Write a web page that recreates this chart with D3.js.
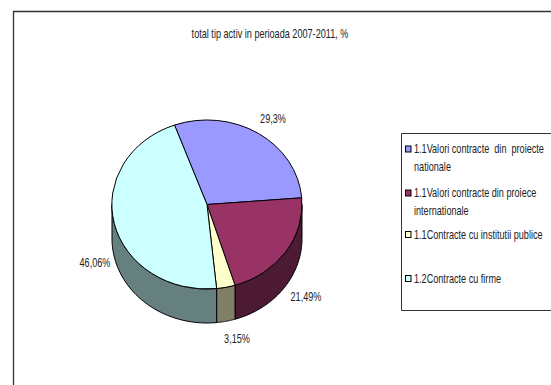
<!DOCTYPE html>
<html>
<head>
<meta charset="utf-8">
<script src="https://cdn.jsdelivr.net/npm/d3@7"></script>
<style>
  html, body { margin: 0; padding: 0; background: #fff; }
  svg { display: block; }
  text { font-family: "Liberation Sans", Arial, sans-serif; font-size: 12px; fill: #222; }
</style>
</head>
<body>
<script>
const chartTitle = "total tip activ in perioada 2007-2011, %";
const categories = [
  ["1.1Valori contracte  din  proiecte", "nationale"],
  ["1.1Valori contracte din proiece", "internationale"],
  ["1.1Contracte cu institutii publice"],
  ["1.2Contracte cu firme"]
];
const values = [29.3, 21.49, 3.15, 46.06];
const valueLabels = ["29,3%", "21,49%", "3,15%", "46,06%"];
const topColors = ["#9999ff", "#993366", "#ffffcc", "#ccffff"];
const sideColors = ["#4d4d80", "#4d1a33", "#808066", "#668080"];

const width = 551, height = 385;
const svg = d3.select("body").append("svg").attr("width", width).attr("height", height);

// Narrowed text, as the chart's labels are set in a condensed face
const squeeze = 0.76;
function label(parent, x, y, str, anchor) {
  return parent.append("text")
    .attr("transform", `translate(${x},${y}) scale(${squeeze},1)`)
    .attr("text-anchor", anchor || "start")
    .attr("xml:space", "preserve")
    .style("white-space", "pre")
    .text(str);
}

// Outer frame: open to the right and below
svg.append("path")
  .attr("d", `M13.5,${height} V11.5 H${width}`)
  .attr("fill", "none").attr("stroke", "#333").attr("stroke-width", 1.3);

label(svg, 270, 38, chartTitle, "middle");

// Pie geometry
const cx = 207, cy = 204.5, rx = 95, ry = 84.5, depth = 34;
const start = -20 * Math.PI / 180;
const arcs = d3.pie().sort(null).startAngle(start).endAngle(start + 2 * Math.PI)(values);

const px = a => cx + rx * Math.sin(a);
const py = a => cy - ry * Math.cos(a);

// Side wall: only the front half of the rim (90° to 270° clockwise from top) is visible
const frontFrom = Math.PI / 2, frontTo = 3 * Math.PI / 2;
const rim = d3.line().x(d => d.x).y(d => d.y);
const walls = svg.append("g");
arcs.forEach((d, i) => {
  const a0 = Math.max(d.startAngle, frontFrom), a1 = Math.min(d.endAngle, frontTo);
  if (a1 <= a0) return;
  const angles = d3.range(0, 61).map(k => a0 + (a1 - a0) * k / 60);
  const upper = angles.map(a => ({ x: px(a), y: py(a) }));
  const lower = angles.slice().reverse().map(a => ({ x: px(a), y: py(a) + depth }));
  walls.append("path")
    .attr("d", rim(upper.concat(lower)) + "Z")
    .attr("fill", sideColors[i])
    .attr("stroke", "#000").attr("stroke-width", 1).attr("stroke-linejoin", "round");
});

// Top face: a unit pie squashed into an ellipse
const arc = d3.arc().innerRadius(0).outerRadius(1);
svg.append("g")
  .attr("transform", `translate(${cx},${cy}) scale(${rx},${ry})`)
  .selectAll("path").data(arcs).join("path")
  .attr("d", arc)
  .attr("fill", (d, i) => topColors[i])
  .attr("stroke", "#000").attr("stroke-width", 1)
  .attr("stroke-linejoin", "round")
  .attr("vector-effect", "non-scaling-stroke");

// Value labels
const labelAt = [[273, 123], [306, 301], [237, 343], [95, 267]];
valueLabels.forEach((t, i) => label(svg, labelAt[i][0], labelAt[i][1], t, "middle"));

// Legend box, open on the right edge
svg.append("path")
  .attr("d", `M${width},133.5 H401.5 V310.5 H${width}`)
  .attr("fill", "none").attr("stroke", "#333").attr("stroke-width", 1);

const swatchY = [149, 193, 234.5, 278.5];
const lineY = [[153, 171], [197, 215], [239], [283]];
categories.forEach((lines, i) => {
  svg.append("rect")
    .attr("x", 405.5).attr("y", swatchY[i] - 3).attr("width", 5.5).attr("height", 6)
    .attr("fill", topColors[i]).attr("stroke", "#000").attr("stroke-width", 1);
  lines.forEach((t, j) => label(svg, 414, lineY[i][j], t));
});
</script>
</body>
</html>
